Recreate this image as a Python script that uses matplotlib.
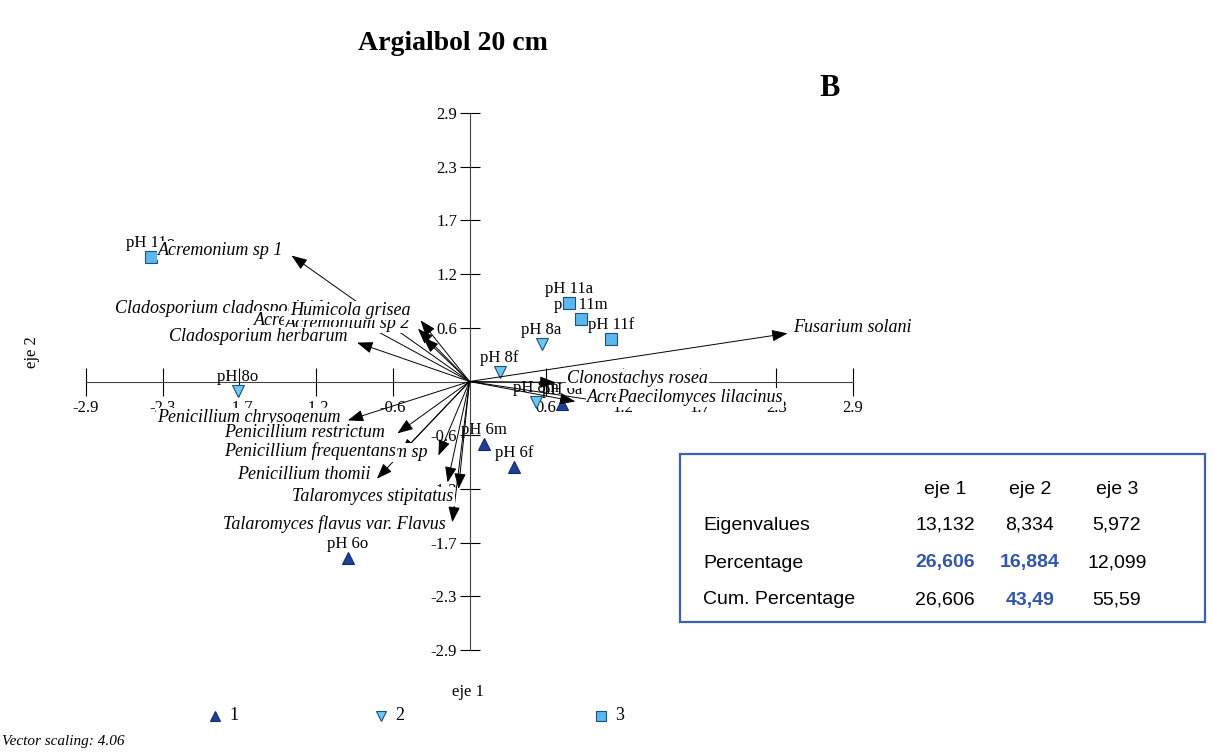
import matplotlib
matplotlib.use("Agg")
import matplotlib.pyplot as plt
from matplotlib.patches import Rectangle

plt.rcParams['font.family'] = ['Liberation Serif', 'DejaVu Serif']

# sample scores (eje 1, eje 2), grouped by pH class
g1_names = ["pH 6m", "pH 6f", "pH 6o", "pH 6a"]
g1_x = [0.11, 0.34, -0.92, 0.70]
g1_y = [-0.67, -0.92, -1.91, -0.24]

g2_names = ["pH 8o", "pH 8a", "pH 8f", "pH 8m"]
g2_x = [-1.75, 0.545, 0.227, 0.50]
g2_y = [-0.10, 0.40, 0.10, -0.22]

g3_names = ["pH 11a", "pH 11m", "pH 11f", "pH 11o"]
g3_x = [0.75, 0.84, 1.07, -2.41]
g3_y = [0.85, 0.68, 0.46, 1.34]

# species vectors (draw order matters: later labels cover earlier ones)
sp_names = ["Acremonium sp 1", "Cladosporium cladosporioides", "Acremonium strictum",
            "Acremonium sp 2", "Humicola grisea", "Cladosporium herbarum",
            "Penicillium chrysogenum", "Penicillium restrictum", "Penicillium sp",
            "Penicillium frequentans", "", "Penicillium thomii",
            "Talaromyces stipitatus", "Talaromyces flavus var. Flavus",
            "Fusarium solani", "Clonostachys rosea", "Acremonium sp 3",
            "Paecilomyces lilacinus"]
sp_x = [-1.346, -0.94, -0.39, -0.35, -0.37, -0.85, -0.92, -0.545, -0.235,
        -0.52, -0.166, -0.70, -0.083, -0.13, 2.405, 0.65, 0.80, 1.006]
sp_y = [1.36, 0.73, 0.57, 0.475, 0.66, 0.42, -0.42, -0.56, -0.80,
        -0.78, -1.09, -1.05, -1.16, -1.52, 0.52, -0.01, -0.216, -0.216]

# label placement relative to the arrow tip, in pixels (right = +, down = +)
lab_dx = [-8, -8, -9, -13, -10, -10, -7, -12, -11, -5, 0, -6, -5, -7, 6, 12, 12, 15]
lab_dy = [-5, -5, -8, -14, -10, -6, -3, -1, -3, -3, 0, -4, 8, 2, -6, -4, -4, -4]

tick_vals = [-2.9, -2.32, -1.74, -1.16, -0.58, 0.58, 1.16, 1.74, 2.32, 2.9]
tick_labels = ["-2.9", "-2.3", "-1.7", "-1.2", "-0.6", "0.6", "1.2", "1.7", "2.3", "2.9"]

tab_cols = ["eje 1", "eje 2", "eje 3"]
tab_rows = ["Eigenvalues", "Percentage", "Cum. Percentage"]
tab_vals = [["13,132", "8,334", "5,972"],
            ["26,606", "16,884", "12,099"],
            ["26,606", "43,49", "55,59"]]
tab_bold = [[False, False, False], [True, True, False], [False, True, False]]

c_dark = "#1f3f96"
c_light = "#6cc8ea"
c_sq = "#5ab8ec"

fig = plt.figure(figsize=(12.14, 7.55), dpi=100)
ax = fig.add_axes([86 / 1214, 105 / 755, 767 / 1214, 537 / 755])
ax.set_xlim(-2.9, 2.9)
ax.set_ylim(-2.9, 2.9)
for s in ["top", "right"]:
    ax.spines[s].set_visible(False)
ax.spines["left"].set_position(("data", 0))
ax.spines["bottom"].set_position(("data", 0))
for s in ["left", "bottom"]:
    ax.spines[s].set_linewidth(0.8)
    ax.spines[s].set_color("#444444")
ax.set_xticks(tick_vals)
ax.set_xticklabels(tick_labels)
ax.set_yticks(tick_vals)
ax.set_yticklabels(tick_labels)
ax.tick_params(axis="x", direction="inout", length=20, width=0.8, pad=3, labelsize=12)
ax.tick_params(axis="y", direction="inout", length=14, width=0.8, pad=2, labelsize=12)
ax.patch.set_alpha(0)

# samples
groups = [(g1_names, g1_x, g1_y, "^", c_dark, "#102a70"),
          (g2_names, g2_x, g2_y, "v", c_light, "#1d4f80"),
          (g3_names, g3_x, g3_y, "s", c_sq, "#1d4f80")]
for names, xs, ys, mk, fc, ec in groups:
    ax.plot(xs, ys, ls="none", marker=mk, ms=8, mfc=fc, mec=ec, mew=0.8,
            zorder=2.6, clip_on=False)
    for n, x, y in zip(names, xs, ys):
        ax.annotate(n, (x, y), xytext=(0, 14), textcoords="offset pixels",
                    ha="center", va="center", fontsize=12, zorder=2.55)

# vectors
for i in range(len(sp_names)):
    ax.annotate("", xy=(sp_x[i], sp_y[i]), xytext=(0, 0),
                arrowprops=dict(arrowstyle="-|>,head_length=0.8,head_width=0.3",
                                color="black", lw=0.7, shrinkA=0, shrinkB=0,
                                mutation_scale=12), zorder=3, annotation_clip=False)

# vector labels
for i in range(len(sp_names)):
    if not sp_names[i]:
        continue
    ax.annotate(sp_names[i], (sp_x[i], sp_y[i]),
                xytext=(lab_dx[i], -lab_dy[i]), textcoords="offset pixels",
                ha="right" if sp_x[i] < 0 else "left", va="center", fontsize=13,
                fontstyle="italic", zorder=5,
                bbox=dict(boxstyle="square,pad=0.06", fc="white", ec="none"))

# overlay in pixel coordinates for the page furniture
ov = fig.add_axes([0, 0, 1, 1], zorder=-1)
ov.set_xlim(0, 1214)
ov.set_ylim(755, 0)
ov.axis("off")

ov.text(453, 43, "Argialbol 20 cm", ha="center", va="center", fontsize=20, fontweight="bold")
ov.text(830, 88, "B", ha="center", va="center", fontsize=22, fontweight="bold")
ov.text(32, 352, "eje 2", ha="center", va="center", fontsize=12, rotation=90)
ov.text(468, 692, "eje 1", ha="center", va="center", fontsize=12)
ov.text(2, 742, "Vector scaling: 4.06", ha="left", va="center", fontsize=11, fontstyle="italic")

leg = [("^", c_dark, "#102a70", "1", 215), ("v", c_light, "#1d4f80", "2", 381),
       ("s", c_sq, "#1d4f80", "3", 601)]
for mk, fc, ec, lab, px in leg:
    ov.plot([px], [716], ls="none", marker=mk, ms=7, mfc=fc, mec=ec, mew=0.8)
    ov.text(px + 14, 716, lab, ha="left", va="center", fontsize=13)

# eigenvalue table
ov.add_patch(Rectangle((680, 454), 525, 168, fill=False, ec="#3c5fae", lw=1.6))
col_x = [945, 1030, 1117]
row_y = [525, 563, 600]
for j, c in enumerate(tab_cols):
    ov.text(col_x[j], 490, c, ha="center", va="center", fontsize=14, family="Liberation Sans")
for i, r in enumerate(tab_rows):
    ov.text(703, row_y[i], r, ha="left", va="center", fontsize=14, family="Liberation Sans")
    for j in range(3):
        b = tab_bold[i][j]
        ov.text(col_x[j], row_y[i], tab_vals[i][j], ha="center", va="center", fontsize=14,
                family="Liberation Sans", fontweight="bold" if b else "normal",
                color="#3355aa" if b else "black")

fig.savefig("out.png", dpi=100)
